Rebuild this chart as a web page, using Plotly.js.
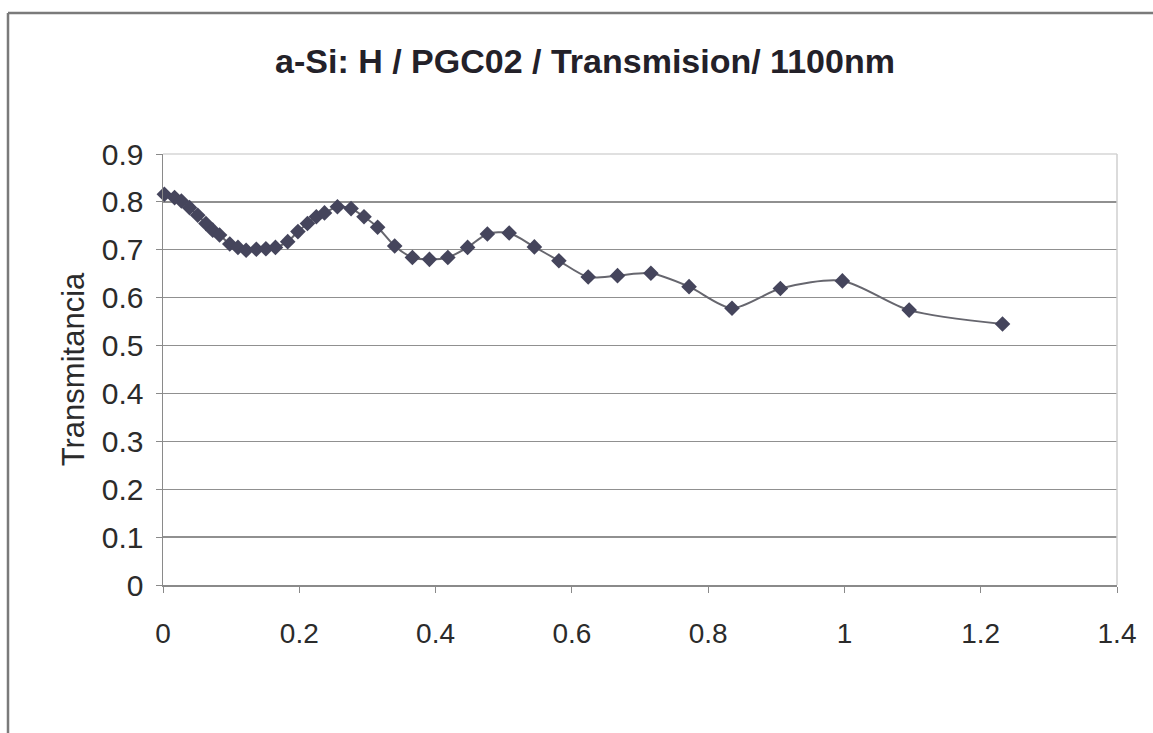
<!DOCTYPE html>
<html>
<head>
<meta charset="utf-8">
<script src="https://cdn.plot.ly/plotly-3.0.1.min.js"></script>
<style>
html,body{margin:0;padding:0;background:#fff;}
#chart{width:1153px;height:733px;}
</style>
</head>
<body>
<div id="chart"></div>
<script>
const xValues = [0.002,0.017,0.027,0.039,0.051,0.063,0.073,0.083,0.098,0.110,0.122,0.137,0.151,0.165,0.183,0.198,0.212,0.225,0.237,0.256,0.276,0.295,0.315,0.340,0.366,0.391,0.418,0.447,0.476,0.508,0.545,0.581,0.624,0.667,0.716,0.772,0.835,0.906,0.997,1.095,1.232];
const yValues = [0.816,0.809,0.802,0.788,0.772,0.755,0.741,0.731,0.712,0.705,0.699,0.701,0.702,0.705,0.717,0.738,0.755,0.769,0.777,0.790,0.786,0.769,0.747,0.708,0.684,0.680,0.684,0.705,0.733,0.735,0.706,0.677,0.643,0.646,0.651,0.623,0.578,0.619,0.635,0.574,0.545];
const xTickVals = [0,0.2,0.4,0.6,0.8,1,1.2,1.4];
const xTickText = ['0','0.2','0.4','0.6','0.8','1','1.2','1.4'];
const yTickVals = [0,0.1,0.2,0.3,0.4,0.5,0.6,0.7,0.8,0.9];
const yTickText = ['0','0.1','0.2','0.3','0.4','0.5','0.6','0.7','0.8','0.9'];
const chartTitle = 'a-Si: H / PGC02 / Transmision/ 1100nm';
const yTitle = 'Transmitancia';

const trace = {
  x: xValues, y: yValues, type: 'scatter', mode: 'lines+markers',
  line: {shape: 'spline', smoothing: 0.8, color: '#66666e', width: 2},
  marker: {symbol: 'diamond', size: 12, color: '#45455c'},
  cliponaxis: false, hoverinfo: 'x+y'
};

const layout = {
  width: 1153, height: 733,
  paper_bgcolor: '#ffffff', plot_bgcolor: '#ffffff',
  margin: {l: 163, r: 36, t: 154, b: 148, pad: 0},
  showlegend: false,
  font: {family: 'Liberation Sans, Arial, sans-serif', color: '#2b2b2b'},
  title: {
    text: '<b>' + chartTitle + '</b>',
    font: {family: 'Liberation Sans, Arial, sans-serif', size: 34, color: '#232129'},
    x: 585/1153, xref: 'container', xanchor: 'center',
    y: 1 - 61/733, yref: 'container', yanchor: 'middle'
  },
  xaxis: {
    range: [0, 1.4], tickvals: xTickVals, ticktext: xTickText,
    showgrid: false, zeroline: false,
    showline: true, linecolor: '#8a8a8a', linewidth: 1.5,
    ticks: 'outside', ticklen: 6, tickcolor: '#8a8a8a', tickwidth: 1,
    ticklabelstandoff: 17,
    tickfont: {size: 28, color: '#2b2b2b'}
  },
  yaxis: {
    range: [0, 0.9], tickvals: yTickVals, ticktext: yTickText,
    showgrid: true, gridcolor: '#909090', gridwidth: 1.3,
    zeroline: false,
    showline: true, linecolor: '#8a8a8a', linewidth: 1.5,
    ticks: 'outside', ticklen: 6, tickcolor: '#8a8a8a', tickwidth: 1,
    ticklabelstandoff: 6,
    tickfont: {size: 30, color: '#2b2b2b'},
    title: {text: yTitle, font: {size: 31, color: '#2b2b2b'}, standoff: 8}
  },
  shapes: [
    {type: 'line', xref: 'paper', yref: 'paper', x0: 0, x1: 1, y0: 1, y1: 1,
     line: {color: '#d6d6d6', width: 1.5}, layer: 'above'},
    {type: 'line', xref: 'paper', yref: 'paper', x0: 1, x1: 1, y0: 0, y1: 1,
     line: {color: '#cfcfcf', width: 1.5}, layer: 'above'},
    {type: 'line', xref: 'paper', yref: 'paper', x0: -155/954, x1: -155/954, y0: -0.4, y1: (585-13)/431,
     line: {color: '#7a7a7a', width: 2.5}},
    {type: 'line', xref: 'paper', yref: 'paper', x0: -155/954, x1: 1.1, y0: (585-13)/431, y1: (585-13)/431,
     line: {color: '#7a7a7a', width: 2.5}}
  ]
};

Plotly.newPlot('chart', [trace], layout, {displayModeBar: false, staticPlot: true});
</script>
</body>
</html>
